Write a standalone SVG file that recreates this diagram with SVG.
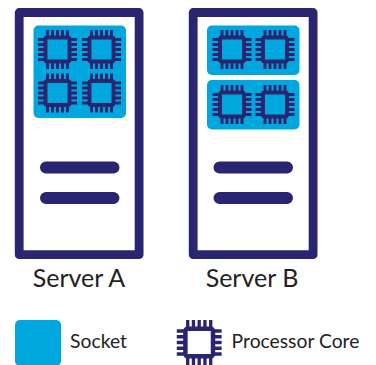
<svg xmlns="http://www.w3.org/2000/svg" xmlns:xlink="http://www.w3.org/1999/xlink" width="376" height="365" viewBox="0 0 376 365">
<style>
.frame{fill:#fff;stroke:#2a2570;stroke-width:8.800;stroke-linejoin:round}
.bar{stroke:#2a2570;stroke-width:12;stroke-linecap:round}
.socket{fill:#00a7de}
.t{font-family:Lato,"Noto Sans",sans-serif;fill:#222;text-anchor:middle}
.pin{stroke:#2a2570;stroke-width:2.900;fill:none}
.body{fill:none;stroke:#2a2570;stroke-width:3.900}
</style>
<defs>
<g id="chip">
<rect class="body" x="-12" y="-12" width="24" height="24" rx="2"/>
<path class="pin" d="M-10-13V-19.500M-5-13V-19.500M0-13V-19.500M5-13V-19.500M10-13V-19.500M-10 13V19.500M-5 13V19.500M0 13V19.500M5 13V19.500M10 13V19.500M-13-10H-19.500M-13-5H-19.500M-13 0H-19.500M-13 5H-19.500M-13 10H-19.500M13-10H19.500M13-5H19.500M13 0H19.500M13 5H19.500M13 10H19.500"/>
</g>
</defs>
<g id="server-a">
<rect class="frame" x="19.200" y="12.500" width="119.900" height="242.200"/>
<rect class="socket" x="33.500" y="25.500" width="92.500" height="92.500" rx="5"/>
<use xlink:href="#chip" href="#chip" x="57.500" y="49.500"/>
<use xlink:href="#chip" href="#chip" x="101.500" y="49.500"/>
<use xlink:href="#chip" href="#chip" x="57.500" y="93"/>
<use xlink:href="#chip" href="#chip" x="101.500" y="93"/>
<path class="bar" d="M46 167.500H113.500M46 198H113.500"/>
<text class="t" x="79" y="287" font-size="25">Server A</text>
</g>
<g id="server-b">
<rect class="frame" x="193.200" y="12.500" width="119.900" height="242.200"/>
<rect class="socket" x="207" y="25.500" width="92.500" height="49.500" rx="5"/>
<rect class="socket" x="207" y="80" width="92.500" height="49.500" rx="5"/>
<use xlink:href="#chip" href="#chip" x="232" y="49.500"/>
<use xlink:href="#chip" href="#chip" x="275" y="49.500"/>
<use xlink:href="#chip" href="#chip" x="232" y="104.500"/>
<use xlink:href="#chip" href="#chip" x="275" y="104.500"/>
<path class="bar" d="M219.500 167.500H287M219.500 198H287"/>
<text class="t" x="252" y="287" font-size="25">Server B</text>
</g>
<g id="legend-socket">
<rect class="socket" x="15" y="320" width="46" height="46" rx="5"/>
<text class="t" x="98.500" y="348" font-size="19.300">Socket</text>
</g>
<g id="legend-core">
<use xlink:href="#chip" href="#chip" transform="translate(199.200 342.500) scale(1.150)"/>
<text class="t" x="295.500" y="348" font-size="19.300">Processor Core</text>
</g>
<g id="connectors"></g>
</svg>
